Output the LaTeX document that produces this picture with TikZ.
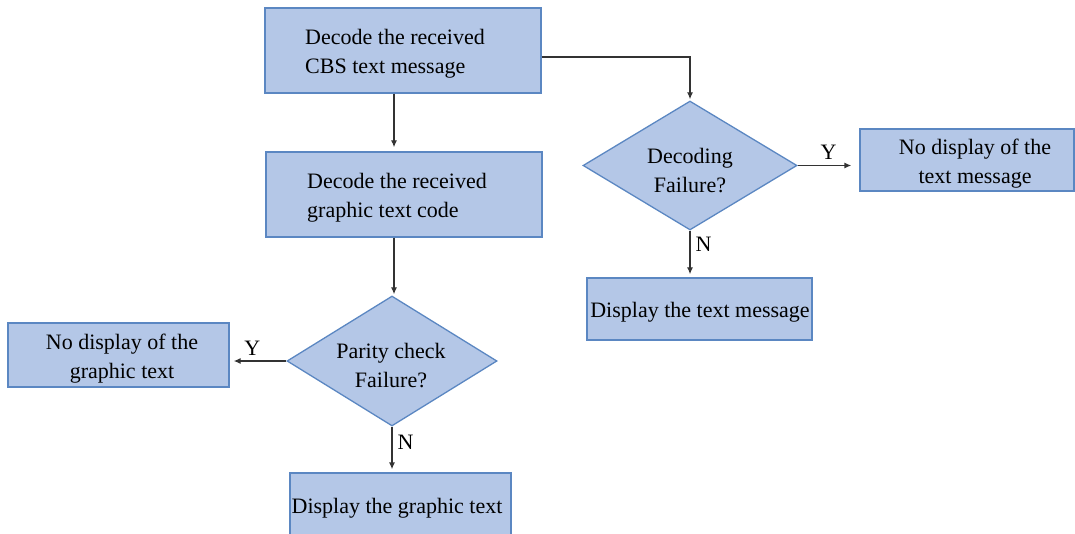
\documentclass[tikz,border=0pt]{standalone}
\usepackage{fontspec}
\setmainfont{Liberation Serif}
\usetikzlibrary{shapes.geometric,arrows.meta}
\definecolor{boxfill}{HTML}{B4C7E7}
\definecolor{boxline}{HTML}{5B87C2}
\tikzset{
  x=1pt, y=-1pt,
  every node/.style={font=\fontsize{22}{29}\selectfont},
  procbox/.style={draw=boxline, fill=boxfill, line width=1.3pt, rectangle, inner sep=0pt},
  decbox/.style={draw=boxline, fill=boxfill, line width=1.3pt, diamond, inner sep=0pt},
  conn/.style={draw=black!80, line width=1.3pt, -{Latex[length=7pt,width=6pt]}},
  lbl/.style={inner sep=0pt}
}
\begin{document}
\begin{tikzpicture}
\useasboundingbox (0,0) rectangle (1075,534);
% boxes
\node[procbox, minimum width=276pt, minimum height=85pt] (A) at (403,50.5) {};
\node[procbox, minimum width=276pt, minimum height=85pt] (B) at (404,194.5) {};
\node[decbox, minimum width=214pt, minimum height=129pt] (C) at (690,165.5) {};
\node[procbox, minimum width=214pt, minimum height=62pt] (D) at (967,160) {};
\node[procbox, minimum width=225pt, minimum height=62pt] (E) at (699.5,309) {};
\node[decbox, minimum width=210pt, minimum height=130pt] (F) at (392,361) {};
\node[procbox, minimum width=221pt, minimum height=64pt] (G) at (118.5,355) {};
\node[procbox, minimum width=221pt, minimum height=70pt] (H) at (400.5,508) {};
% texts
\node[align=left, anchor=west, inner sep=0pt] (tA) at (305,53.5) {Decode the received\\CBS text message};
\node[align=left, anchor=west, inner sep=0pt] (tB) at (307,197.5) {Decode the received\\graphic text code};
\node[align=center, inner sep=0pt] (tC) at (690,170.5) {Decoding\\Failure?};
\node[align=center, inner sep=0pt] (tD) at (975,164) {No display of the\\text message};
\node[align=center, inner sep=0pt] (tE) at (700,312) {Display the text message};
\node[align=center, inner sep=0pt] (tF) at (391,366) {Parity check\\Failure?};
\node[align=center, inner sep=0pt] (tG) at (122,359) {No display of the\\graphic text};
\node[align=center, inner sep=0pt] (tH) at (397,508) {Display the graphic text};
% connectors
\draw[conn, shorten >=4pt] (A.south -| 394,0) -- (B.north -| 394,0);
\draw[conn, shorten >=1pt] (A.east |- 0,57) -| (C.north);
\draw[conn, shorten >=1pt] (B.south -| 394,0) -- (F.north -| 394,0);
\draw[conn, shorten >=8pt] (C.east) -- (D.west |- C.east) node[lbl, pos=0.5, above=5pt] (yC) {Y};
\draw[conn, shorten >=3pt] (C.south) -- (E.north -| C.south) node[lbl, pos=0.3, right=5pt] (nC) {N};
\draw[conn, shorten >=4pt] (F.west) -- (G.east |- F.west) node[lbl, pos=0.6, above=5pt] (yF) {Y};
\draw[conn, shorten >=3pt] (F.south) -- (H.north -| F.south) node[lbl, pos=0.35, right=5pt] (nF) {N};
\end{tikzpicture}
\end{document}
